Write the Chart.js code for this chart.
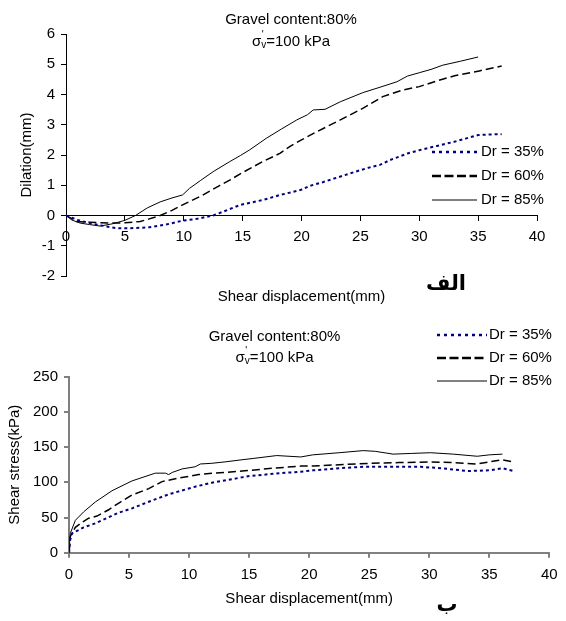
<!DOCTYPE html>
<html>
<head>
<meta charset="utf-8">
<script src="https://cdn.jsdelivr.net/npm/chart.js@4.4.0/dist/chart.umd.min.js"></script>
<style>
  html, body { margin: 0; padding: 0; background: #fff; }
  #wrap { position: relative; width: 566px; height: 621px; }
  .box { position: absolute; left: 0; width: 566px; }
  #top { top: 0; height: 312px; z-index: 2; }
  #bottom { top: 300px; height: 321px; z-index: 1; }
</style>
</head>
<body>
<div id="wrap">
  <div class="box" id="top"><canvas id="dilationChart"></canvas></div>
  <div class="box" id="bottom"><canvas id="stressChart"></canvas></div>
</div>
<script>
// --- data ---
const seriesLabels = ['Dr = 35%', 'Dr = 60%', 'Dr = 85%'];
const xTicksTop = { min: 0, max: 40, step: 5 };
const yTicksTop = { min: -2, max: 6, step: 1 };
const xTicksBottom = { min: 0, max: 40, step: 5 };
const yTicksBottom = { min: 0, max: 250, step: 50 };

// (a) dilation vs shear displacement
const disp35 = [0, 1, 2, 3, 4.3, 5.5, 7.1, 8.5, 9.9, 11, 12.5, 13.5, 14.8, 16.8, 18.2, 19.9, 20.7, 21.8, 23, 25, 25.8, 26.7, 27.5, 29, 30, 31.5, 32.9, 34, 35, 36, 37];
const dil35 = [0, -0.15, -0.25, -0.33, -0.42, -0.42, -0.39, -0.3, -0.17, -0.12, 0, 0.15, 0.35, 0.52, 0.68, 0.84, 0.98, 1.1, 1.25, 1.5, 1.59, 1.68, 1.83, 2.05, 2.16, 2.3, 2.43, 2.55, 2.66, 2.68, 2.69];

const disp60 = [0, 0.9, 2, 2.9, 4, 5, 6.3, 7, 8, 9, 9.9, 11.5, 13, 13.9, 15, 16.7, 18.2, 19, 20, 21.3, 23.3, 25.2, 26.9, 28.6, 30, 31.5, 33, 35.1, 37];
const dil60 = [0, -0.2, -0.22, -0.24, -0.25, -0.24, -0.2, -0.12, 0, 0.17, 0.35, 0.65, 0.98, 1.17, 1.42, 1.78, 2.06, 2.28, 2.5, 2.77, 3.16, 3.54, 3.93, 4.15, 4.26, 4.45, 4.62, 4.78, 4.94];

const disp85 = [0, 0.5, 1.2, 2, 2.9, 4, 5, 5.9, 6.9, 8, 9, 9.9, 10.5, 11.4, 12.5, 13.9, 14.8, 15.6, 17, 18.3, 19.6, 20.5, 21, 22, 23.3, 25.2, 26.5, 28.1, 29, 30, 31, 32, 33.5, 35];
const dil85 = [0, -0.15, -0.25, -0.3, -0.35, -0.27, -0.16, 0, 0.25, 0.45, 0.58, 0.68, 0.9, 1.15, 1.45, 1.78, 1.98, 2.17, 2.55, 2.86, 3.16, 3.33, 3.49, 3.51, 3.76, 4.06, 4.22, 4.42, 4.61, 4.72, 4.83, 4.97, 5.1, 5.24];

// (b) shear stress vs shear displacement
const disp35b = [0, 0.1, 0.25, 0.53, 1.22, 2.19, 4.14, 5.25, 6.64, 8.3, 10.5, 11.9, 14.4, 15.1, 17.6, 19.3, 20.3, 22.5, 24.5, 27, 29.3, 31, 33.2, 35, 36.1, 37];
const stress35 = [0, 18, 27.5, 29.8, 36, 41.7, 56.8, 63, 72.4, 82.9, 93.8, 99.4, 107, 109, 113, 115, 117, 120, 122, 122, 122, 120, 116, 117, 120, 116];

const disp60b = [0, 0.11, 0.53, 1.08, 1.64, 2.33, 3.3, 4.28, 5.25, 6.64, 7.75, 9.14, 10.8, 11.9, 13, 14.4, 17, 19.3, 20.3, 22.5, 25.1, 27.5, 30.1, 32, 34, 35, 36.1, 37];
const stress60 = [0, 23, 36, 43, 49, 52, 61, 72, 82, 91, 101, 106, 111, 113, 114, 116, 120, 123, 123, 125, 127, 128, 129, 128, 126, 129, 132, 129];

const disp85b = [0, 0.05, 0.11, 0.53, 1.22, 2.19, 3.58, 5.25, 7.19, 8.03, 8.3, 8.6, 9.42, 10.5, 10.94, 11.9, 13, 14.4, 15.4, 17.3, 19.3, 20.3, 22.5, 24.5, 25.5, 27, 28.5, 30.1, 32, 34, 35, 36.1];
const stress85 = [0, 15, 27.5, 46, 58, 72, 88, 102, 113, 113, 111, 114, 119, 122, 126, 127, 129, 132, 134, 138, 136, 139, 142, 145, 144, 140, 141, 142, 140, 137, 139, 140];

const FONT = '"Liberation Sans", Arial, sans-serif';
Chart.defaults.font.family = FONT;
Chart.defaults.font.size = 15;
Chart.defaults.color = '#000';

function toPoints(xs, ys) {
    return xs.map((x, i) => ({ x: x, y: ys[i] }));
}

function makeDatasets(xa, ya, xb, yb, xc, yc) {
    return [
        { label: seriesLabels[0], data: toPoints(xa, ya), borderColor: '#000080', borderWidth: 2, borderDash: [3, 3],
          legendWidth: 2.5, legendDash: [3, 4] },
        { label: seriesLabels[1], data: toPoints(xb, yb), borderColor: '#000', borderWidth: 1.5, borderDash: [8, 4],
          legendWidth: 2.5, legendDash: [9, 3.5] },
        { label: seriesLabels[2], data: toPoints(xc, yc), borderColor: '#000', borderWidth: 1, borderDash: [],
          legendWidth: 1, legendDash: [] }
    ];
}

// sigma'_v = 100 kPa with prime and subscript
function drawSigma(ctx, cx, cy) {
    ctx.font = '15px ' + FONT;
    const wS = ctx.measureText('σ').width;
    const wR = ctx.measureText('=100 kPa').width;
    ctx.font = '10px ' + FONT;
    const wV = ctx.measureText('v').width;
    let x = cx - (wS + wV + wR) / 2;
    ctx.textAlign = 'left';
    ctx.font = '15px ' + FONT;
    ctx.fillText('σ', x, cy);
    ctx.font = '10px ' + FONT;
    ctx.fillText('v', x + wS, cy + 3);
    ctx.fillText("'", x + wS + 0.5, cy - 7);
    ctx.font = '15px ' + FONT;
    ctx.fillText('=100 kPa', x + wS + wV, cy);
}

const notesPlugin = {
    id: 'notes',
    afterDraw(chart, args, opts) {
        const ctx = chart.ctx;
        ctx.save();
        ctx.fillStyle = '#000';
        ctx.textBaseline = 'middle';
        ctx.textAlign = 'center';
        ctx.font = '15px ' + FONT;
        ctx.fillText(opts.heading, opts.cx, opts.headY);
        drawSigma(ctx, opts.cx, opts.sigY);

        // panel letter (Persian)
        ctx.textAlign = 'center';
        ctx.textBaseline = 'alphabetic';
        ctx.font = 'bold 21px "DejaVu Sans"';
        ctx.fillText(opts.tag, opts.tagX, opts.tagY);
        ctx.textBaseline = 'middle';

        // legend samples from the datasets
        const lg = opts.legend;
        chart.data.datasets.forEach((ds, i) => {
            const y = lg.y + i * lg.rowH;
            ctx.beginPath();
            ctx.strokeStyle = ds.borderColor;
            ctx.lineWidth = ds.legendWidth;
            ctx.setLineDash(ds.legendDash);
            ctx.moveTo(lg.x, y);
            ctx.lineTo(lg.x + lg.len, y);
            ctx.stroke();
            ctx.setLineDash([]);
            ctx.textAlign = 'left';
            ctx.font = '15px ' + FONT;
            ctx.fillStyle = '#000';
            ctx.fillText(ds.label, lg.x + lg.len + lg.gap, y);
        });
        ctx.restore();
    }
};

function axisStyle(color, width) {
    return {
        border: { display: true, color: color, width: width },
        grid: { display: true, drawOnChartArea: false, drawTicks: true, tickLength: 5, color: color, lineWidth: width }
    };
}

// (a) dilation chart
new Chart(document.getElementById('dilationChart'), {
    type: 'line',
    data: { datasets: makeDatasets(disp35, dil35, disp60, dil60, disp85, dil85) },
    options: {
        responsive: true,
        maintainAspectRatio: false,
        animation: false,
        elements: { point: { radius: 0 }, line: { tension: 0, fill: false } },
        layout: { padding: { left: 0, right: 29, top: 34, bottom: 36 } },
        plugins: {
            legend: { display: false },
            tooltip: { enabled: false },
            notes: {
                heading: 'Gravel content:80%', cx: 291, headY: 20, sigY: 42,
                tag: 'الف', tagX: 446, tagY: 290,
                legend: { x: 432, y: 152, len: 45, gap: 4, rowH: 24 }
            }
        },
        scales: {
            x: {
                type: 'linear',
                position: { y: 0 },
                min: xTicksTop.min, max: xTicksTop.max,
                ticks: { stepSize: xTicksTop.step, padding: 7, maxRotation: 0 },
                title: { display: true, text: 'Shear displacement(mm)' },
                afterFit: s => { s.height = 94.5; },
                ...axisStyle('#000', 1)
            },
            y: {
                min: yTicksTop.min, max: yTicksTop.max,
                ticks: { stepSize: yTicksTop.step, padding: 6 },
                title: { display: true, text: 'Dilation(mm)', padding: { top: 18, bottom: 0 } },
                afterFit: s => { s.width = 66; },
                ...axisStyle('#000', 1)
            }
        }
    },
    plugins: [notesPlugin]
});

// (b) shear stress chart
new Chart(document.getElementById('stressChart'), {
    type: 'line',
    data: { datasets: makeDatasets(disp35b, stress35, disp60b, stress60, disp85b, stress85) },
    options: {
        responsive: true,
        maintainAspectRatio: false,
        animation: false,
        elements: { point: { radius: 0 }, line: { tension: 0, fill: false } },
        layout: { padding: { left: 0, right: 16.7, top: 76.7, bottom: 9 } },
        plugins: {
            legend: { display: false },
            tooltip: { enabled: false },
            notes: {
                heading: 'Gravel content:80%', cx: 274.5, headY: 37, sigY: 58,
                tag: 'ب', tagX: 447, tagY: 311,
                legend: { x: 437, y: 35, len: 50, gap: 2, rowH: 23 }
            }
        },
        scales: {
            x: {
                type: 'linear',
                position: 'bottom',
                min: xTicksBottom.min, max: xTicksBottom.max,
                ticks: { stepSize: xTicksBottom.step, padding: 8, maxRotation: 0 },
                title: { display: true, text: 'Shear displacement(mm)' },
                afterFit: s => { s.height = 59.3; },
                ...axisStyle('#808080', 2)
            },
            y: {
                min: yTicksBottom.min, max: yTicksBottom.max,
                ticks: { stepSize: yTicksBottom.step, padding: 6 },
                title: { display: true, text: 'Shear stress(kPa)', padding: { top: 5.5, bottom: 0 } },
                afterFit: s => { s.width = 69; },
                ...axisStyle('#808080', 2)
            }
        }
    },
    plugins: [notesPlugin]
});
</script>
</body>
</html>
